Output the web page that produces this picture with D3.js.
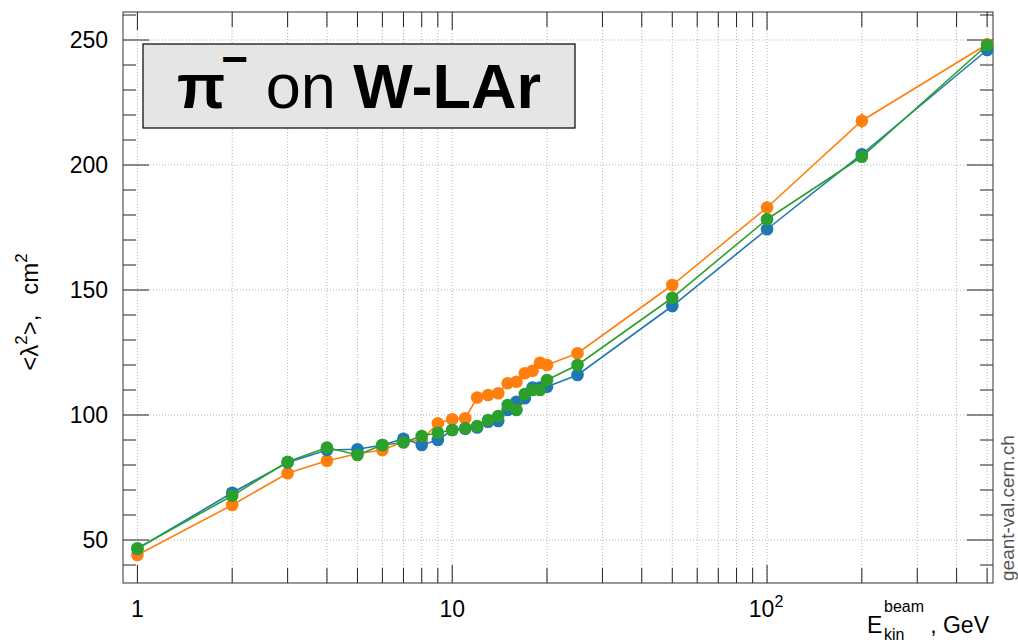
<!DOCTYPE html>
<html lang="en">
<head>
    <meta charset="UTF-8">
    <title>pi- on W-LAr</title>
    <script src="https://d3js.org/d3.v7.min.js"></script>
    <style>
        body { margin: 0; background: white; font-family: "Liberation Sans", Arial, sans-serif; }
        svg { display: block; }
        .grid line { stroke: #b4b4b4; stroke-width: 1; stroke-dasharray: 1,2; }
        .tick-label { font-size: 23px; fill: black; }
    </style>
</head>
<body>
    <svg width="1018" height="643"></svg>

    <script>
        // beam kinetic energy, GeV
        const energies = [1, 2, 3, 4, 5, 6, 7, 8, 9, 10, 11, 12, 13, 14, 15, 16, 17, 18, 19, 20, 25, 50, 100, 200, 500];

        // <lambda^2>, cm^2
        const blueValues = [46.5, 68.9, 81, 86, 86.3, 88, 90.5, 88, 90, 94, 94.5, 95, 97.3, 97.6, 102, 105.3, 106.7, 111, 111, 111.3, 116, 143.6, 174.3, 204.3, 246];
        const orangeValues = [44, 64, 76.7, 81.7, 84.5, 86, 89.3, 90, 96.7, 98.3, 98.7, 107, 108, 108.7, 112.7, 113.3, 116.7, 117.7, 120.9, 120, 124.7, 152, 183, 217.7, 248.3];
        const greenValues = [46.7, 67.7, 81.3, 87, 84, 88, 89, 91.6, 92.9, 94, 94.7, 95.6, 98, 99.6, 104, 102, 108.4, 110, 110, 114, 120, 146.9, 178.3, 203.3, 248];

        // error bars, only visible at the highest energies
        const blueErrors = [0, 0, 0, 0, 0, 0, 0, 0, 0, 0, 0, 0, 0, 0, 0, 0, 0, 0, 0, 0, 0, 0, 1.5, 2.5, 2];
        const orangeErrors = [0, 0, 0, 0, 0, 0, 0, 0, 0, 0, 0, 0, 0, 0, 0, 0, 0, 0, 0, 0, 0, 0, 2.5, 3, 2];
        const greenErrors = [0, 0, 0, 0, 0, 0, 0, 0, 0, 0, 0, 0, 0, 0, 0, 0, 0, 0, 0, 0, 0, 0, 1.5, 2, 2.5];

        const yTicks = [50, 100, 150, 200, 250];

        const series = [
            { values: orangeValues, errors: orangeErrors, color: "#ff7f0e" },
            { values: blueValues, errors: blueErrors, color: "#1f77b4" },
            { values: greenValues, errors: greenErrors, color: "#2ca02c" }
        ];

        const plotL = 123, plotR = 993, plotT = 12, plotB = 583;
        const svg = d3.select("svg");

        const x = d3.scaleLog().domain([0.9, 522]).range([plotL, plotR]);
        const y = d3.scaleLinear().domain([32.8, 261.2]).range([plotB, plotT]);

        // x ticks: decades + 2..9
        const xMinor = [];
        [1, 10, 100].forEach(d => { for (let k = 1; k < 10; k++) if (d * k <= 500) xMinor.push(d * k); });
        const yMinor = d3.range(40, 261, 10);

        // grid
        const grid = svg.append("g").attr("class", "grid");
        grid.selectAll(".gx").data(xMinor).join("line")
            .attr("x1", d => x(d)).attr("x2", d => x(d))
            .attr("y1", plotT).attr("y2", plotB);
        grid.selectAll(".gy").data(yTicks).join("line")
            .attr("x1", plotL).attr("x2", plotR)
            .attr("y1", d => y(d)).attr("y2", d => y(d));

        // ticks on all four sides
        const ticks = svg.append("g").attr("stroke", "#222").attr("stroke-width", 1);
        yMinor.forEach(v => {
            const len = yTicks.includes(v) ? 26 : 13;
            ticks.append("line").attr("x1", plotL).attr("x2", plotL + len).attr("y1", y(v)).attr("y2", y(v));
            ticks.append("line").attr("x1", plotR).attr("x2", plotR - len).attr("y1", y(v)).attr("y2", y(v));
        });
        xMinor.forEach(v => {
            const len = [1, 10, 100].includes(v) ? 18 : 15;
            ticks.append("line").attr("x1", x(v)).attr("x2", x(v)).attr("y1", plotB).attr("y2", plotB - len);
            ticks.append("line").attr("x1", x(v)).attr("x2", x(v)).attr("y1", plotT).attr("y2", plotT + len);
        });

        svg.append("rect")
            .attr("x", plotL).attr("y", plotT)
            .attr("width", plotR - plotL).attr("height", plotB - plotT)
            .attr("fill", "none").attr("stroke", "#333").attr("stroke-width", 1);

        // tick labels
        svg.selectAll(".ylab").data(yTicks).join("text")
            .attr("class", "tick-label")
            .attr("x", 108).attr("y", d => y(d) + 8)
            .attr("text-anchor", "end")
            .text(d => d);

        svg.append("text").attr("class", "tick-label").attr("x", x(1)).attr("y", 617).attr("text-anchor", "middle").text("1");
        svg.append("text").attr("class", "tick-label").attr("x", x(10)).attr("y", 617).attr("text-anchor", "middle").text("10");
        const xl3 = svg.append("text").attr("class", "tick-label").attr("x", x(100) - 1).attr("y", 617).attr("text-anchor", "middle");
        xl3.append("tspan").text("10");
        xl3.append("tspan").attr("font-size", 16).attr("dy", -10).text("2");

        // axis titles
        const yt = svg.append("text")
            .attr("transform", "translate(38,312) rotate(-90)")
            .attr("text-anchor", "middle")
            .attr("font-size", 24);
        yt.append("tspan").text("<λ");
        yt.append("tspan").attr("font-size", 17).attr("dy", -11).text("2");
        yt.append("tspan").attr("dy", 11).text(">,\u00a0\u00a0\u00a0cm");
        yt.append("tspan").attr("font-size", 17).attr("dy", -11).text("2");

        const xt = svg.append("g").attr("font-size", 23);
        xt.append("text").attr("x", 867).attr("y", 633).text("E");
        xt.append("text").attr("x", 884).attr("y", 612).attr("font-size", 16).text("beam");
        xt.append("text").attr("x", 884).attr("y", 640).attr("font-size", 16).text("kin");
        xt.append("text").attr("x", 989).attr("y", 633).attr("text-anchor", "end").text(", GeV");

        // watermark
        svg.append("text")
            .attr("transform", "translate(1014,581) rotate(-90)")
            .attr("font-size", 19).attr("fill", "#555")
            .text("geant-val.cern.ch");

        // data
        const line = d3.line().x((d, i) => x(energies[i])).y(d => y(d));
        series.forEach(s => {
            const g = svg.append("g");
            g.append("path").datum(s.values)
                .attr("d", line)
                .attr("fill", "none").attr("stroke", s.color).attr("stroke-width", 1.6);
            g.selectAll(".err").data(s.values).join("line")
                .attr("x1", (d, i) => x(energies[i])).attr("x2", (d, i) => x(energies[i]))
                .attr("y1", (d, i) => y(d - s.errors[i])).attr("y2", (d, i) => y(d + s.errors[i]))
                .attr("stroke", s.color).attr("stroke-width", 1.6);
            g.selectAll("circle").data(s.values).join("circle")
                .attr("cx", (d, i) => x(energies[i])).attr("cy", d => y(d))
                .attr("r", 6.3).attr("fill", s.color);
        });

        // title box
        svg.append("rect")
            .attr("x", 143).attr("y", 44).attr("width", 432).attr("height", 84)
            .attr("fill", "#e5e5e5").attr("stroke", "black").attr("stroke-width", 1.2);
        const title = svg.append("text")
            .attr("x", 359).attr("y", 108)
            .attr("text-anchor", "middle")
            .attr("font-size", 63);
        title.append("tspan").attr("font-weight", "bold").text("π");
        title.append("tspan").attr("font-weight", "bold").attr("font-size", 46).attr("dx", -4).attr("dy", -33).text("−");
        title.append("tspan").attr("dy", 33).text(" on ");
        title.append("tspan").attr("font-weight", "bold").text("W-LAr");
    </script>
</body>
</html>
